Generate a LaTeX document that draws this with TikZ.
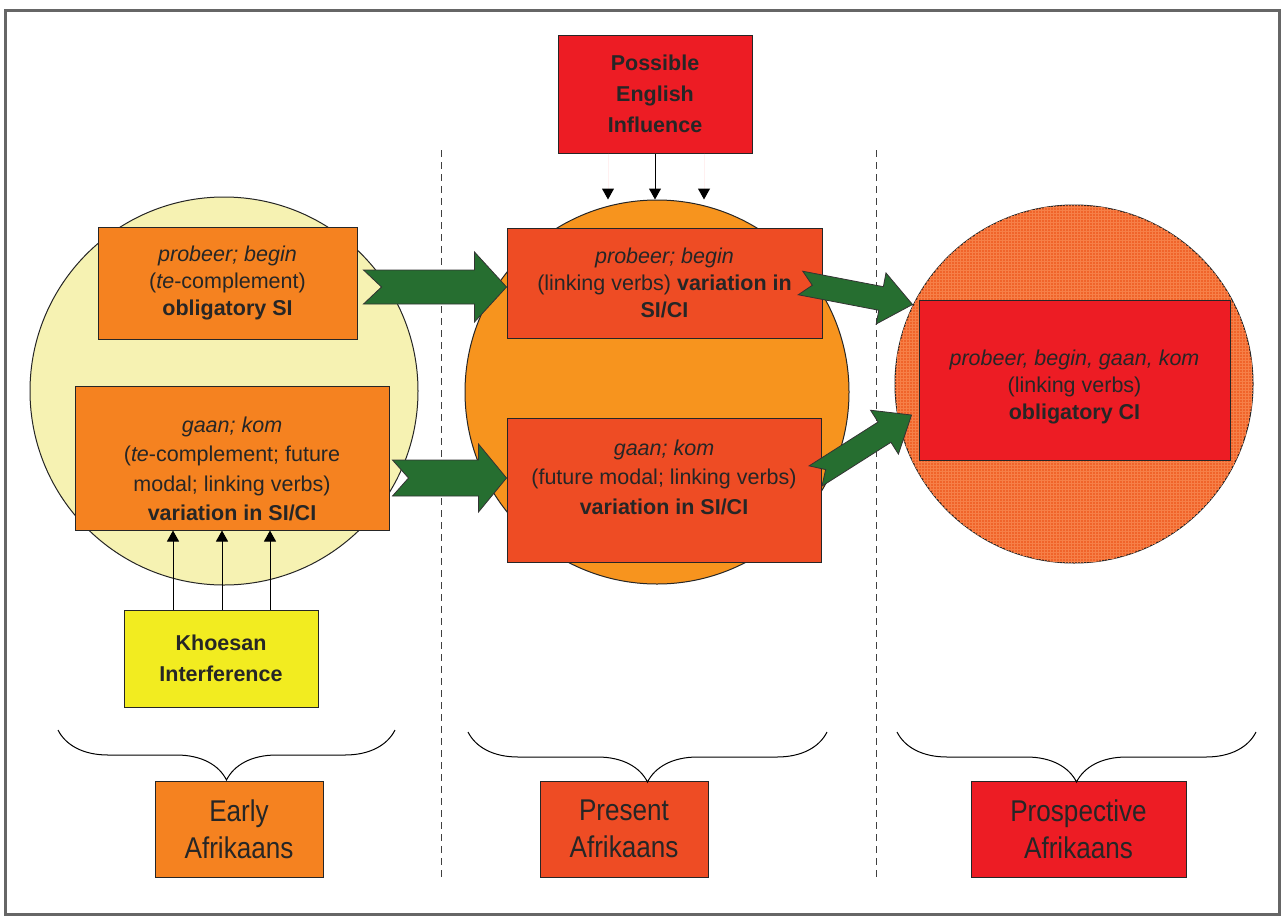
\documentclass[tikz,border=0pt]{standalone}
\usepackage{fontspec}
\setmainfont{Liberation Sans}
\newfontfamily\narrowsf[FakeStretch=0.87]{Liberation Sans}
\usetikzlibrary{arrows.meta,calc,decorations.pathreplacing,patterns}

\definecolor{paleyel}{RGB}{246,242,178}
\definecolor{khoiyel}{RGB}{242,236,32}
\definecolor{earlyor}{RGB}{245,130,32}
\definecolor{midor}{RGB}{247,148,30}
\definecolor{presor}{RGB}{238,76,36}
\definecolor{prosred}{RGB}{237,28,36}
\definecolor{futor}{RGB}{240,100,42}
\definecolor{gridor}{RGB}{246,128,72}
\definecolor{arrgreen}{RGB}{38,110,48}

% tail, tip, shaft half width, head half width, head length, notch
\newcommand\greenarrow[6]{%
  \filldraw[fill=arrgreen, draw=black!80, line width=0.8pt]
    ($(#1)!#3!90:(#2)$) -- ($(#2)!#5!(#1)!#3!90:(#2)$)
    -- ($(#2)!#5!(#1)!#4!90:(#2)$) -- (#2)
    -- ($(#2)!#5!(#1)!#4!-90:(#2)$) -- ($(#2)!#5!(#1)!#3!-90:(#2)$)
    -- ($(#1)!#3!-90:(#2)$) -- ($(#1)!#6!(#2)$) -- cycle;}

\begin{document}
\begin{tikzpicture}[x=1pt,y=-1pt,
  box/.style={draw=black!85, line width=1pt, inner sep=0pt, align=center,
    text=black!85, font=\fontsize{21.5}{27}\selectfont},
  tallbox/.style={box, font=\fontsize{21.5}{29.5}\selectfont},
  namebox/.style={box, minimum height=96pt,
    font=\narrowsf\fontsize{30}{37}\selectfont},
  disc/.style={circle, draw=black!85, line width=1pt, inner sep=0pt},
  tip/.style={-{Triangle[width=12pt,length=11pt]}, line width=1pt},
  sep/.style={black!75, line width=1pt, dash pattern=on 7pt off 5pt},
  brc/.style={decorate, decoration={brace, mirror, amplitude=50pt}, line width=1pt},
]
\useasboundingbox (0,0) rectangle (1284,921);
\draw[black!60, line width=3pt] (5,10) rectangle (1279,914);

% period separators
\draw[sep] (441,150) -- (441,880);
\draw[sep] (876,150) -- (876,880);

% the three stages
\node[disc, fill=paleyel, minimum size=388pt] (ecirc) at (224,391) {};
\node[disc, fill=midor, minimum size=384pt] (pcirc) at (657,392) {};
\node[disc, fill=futor, minimum size=358pt,
  postaction={pattern=grid, pattern color=gridor}] (fcirc) at (1074,384) {};

\node[box, fill=earlyor, minimum width=259pt, minimum height=112pt] (a1) at (227.5,283)
  {\textit{probeer; begin}\\(\textit{te}-complement)\\\textbf{obligatory SI}};
\node[tallbox, fill=earlyor, minimum width=314pt, minimum height=144pt] (a2) at (232,458)
  {\rule{0pt}{37pt}\textit{gaan; kom}\\(\textit{te}-complement; future\\modal; linking verbs)\\\textbf{variation in SI/CI}};
\node[box, fill=khoiyel, minimum width=194pt, minimum height=97pt,
  font=\bfseries\fontsize{21.5}{31}\selectfont] (khoe) at (221,658.5)
  {Khoesan\\Interference};

\node[box, fill=prosred, minimum width=194pt, minimum height=118pt,
  font=\bfseries\fontsize{21.5}{31}\selectfont] (eng) at (655,94)
  {Possible\\English\\Influence};
\node[box, fill=presor, minimum width=315pt, minimum height=110pt] (m1) at (664.5,283)
  {\textit{probeer; begin}\\(linking verbs) \textbf{variation in}\\\textbf{SI/CI}};
\node[tallbox, fill=presor, minimum width=314pt, minimum height=144pt] (m2) at (664,490)
  {\textit{gaan; kom}\\(future modal; linking verbs)\\\textbf{variation in SI/CI}\rule[-26pt]{0pt}{0pt}};

\node[box, fill=prosred, minimum width=311pt, minimum height=160pt] (r) at (1074.5,380)
  {\rule{0pt}{30pt}\textit{probeer, begin, gaan, kom}\\(linking verbs)\\\textbf{obligatory CI}};

% influences
\foreach \dx in {-48,1,49}
  \draw[tip] (khoe.north) ++(\dx,0) coordinate (k) -- (k |- a2.south);
\draw[tip] (eng.south) -- (eng.south |- pcirc.north);
\foreach \dx in {-47,49}
  \draw[red!6, line width=1pt, -{Triangle[width=12pt,length=11pt,black]}]
    (eng.south) ++(\dx,0) coordinate (e) -- (e |- pcirc.north);

% development
\coordinate (g1s) at ($(a1.east)+(6,4)$);
\coordinate (g1e) at ($(m1.west)+(0,4)$);
\coordinate (g2s) at ($(a2.east)+(3,20)$);
\coordinate (g2e) at ($(m2.west)+(0,-12)$);
\coordinate (g3s) at ($(m1.east)+(-22,0)$);
\coordinate (g3e) at ($(r.north west)+(-6,5)$);
\coordinate (g4s) at ($(m2.east)+(-6,-14)$);
\coordinate (g4e) at ($(r.west)+(-7,35)$);
\greenarrow{g1s}{g1e}{17pt}{35pt}{32pt}{18pt}
\greenarrow{g2s}{g2e}{18pt}{34pt}{28pt}{16pt}
\greenarrow{g3s}{g3e}{12pt}{26pt}{32pt}{12pt}
\greenarrow{g4s}{g4e}{12pt}{26pt}{32pt}{12pt}

% stage names
\node[namebox, fill=earlyor, minimum width=168pt] (early) at (239,829) {Early\\Afrikaans};
\node[namebox, fill=presor, minimum width=168pt] (pres) at (624,829) {Present\\Afrikaans};
\node[namebox, fill=prosred, minimum width=215pt] (pros) at (1078.5,829) {Prospective\\Afrikaans};
\draw[brc] (58,730) -- (395,730);
\draw[brc] (468,732) -- (827,732);
\draw[brc] (897,732) -- (1256,732);
\end{tikzpicture}
\end{document}
